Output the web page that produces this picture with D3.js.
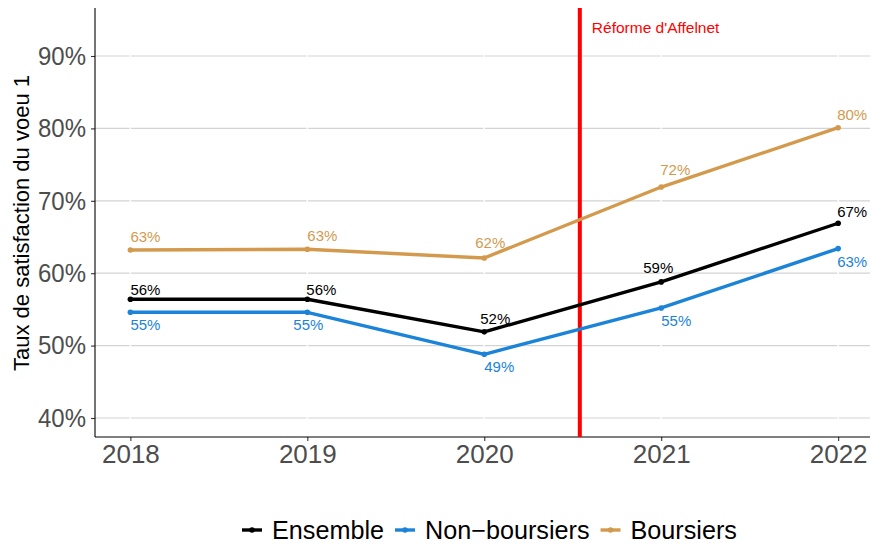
<!DOCTYPE html>
<html>
<head>
<meta charset="utf-8">
<script src="https://d3js.org/d3.v7.min.js"></script>
<style>
  body { margin: 0; background: white; font-family: 'Liberation Sans', Arial, sans-serif; }
</style>
</head>
<body>
<div id="chart"></div>
<script>
const years = [2018, 2019, 2020, 2021, 2022]
const seriesNames = ["Ensemble", "Non-boursiers", "Boursiers"]
const legendLabels = ["Ensemble", "Non\u2212boursiers", "Boursiers"]
const ensemble = [56.4, 56.4, 51.9, 58.8, 66.9]
const nonBoursiers = [54.6, 54.6, 48.8, 55.2, 63.4]
const boursiers = [63.2, 63.3, 62.1, 71.9, 80.1]
const yTicks = [40, 50, 60, 70, 80, 90]
const reformYear = 2020.54
const reformLabel = "Réforme d'Affelnet"

const colors = {"Ensemble": "#000000", "Non-boursiers": "#1B83D8", "Boursiers": "#D39A4E"}
const values = {"Ensemble": ensemble, "Non-boursiers": nonBoursiers, "Boursiers": boursiers}

const W = 871, H = 543
const pLeft = 95, pRight = 870, pTop = 8, pBottom = 437

const svg = d3.select("#chart").append("svg")
  .attr("width", W).attr("height", H)

const x = d3.scaleLinear().domain([2017.8, 2022.18]).range([pLeft, pRight])
const y = d3.scaleLinear().domain([40, 90]).range([418, 56])

// grid
svg.selectAll(".grid").data(yTicks).enter().append("line")
  .attr("x1", pLeft).attr("x2", pRight)
  .attr("y1", d => y(d)).attr("y2", d => y(d))
  .attr("stroke", "#d3d3d3").attr("stroke-width", 1.2)
svg.selectAll(".vgrid").data(years).enter().append("line")
  .attr("x1", d => x(d)).attr("x2", d => x(d))
  .attr("y1", pTop).attr("y2", pBottom)
  .attr("stroke", "white").attr("stroke-width", 1.5)

// axes
const yAxis = svg.append("g").attr("transform", `translate(${pLeft},0)`)
  .call(d3.axisLeft(y).tickValues(yTicks).tickSize(4).tickPadding(5).tickFormat(d => d + "%"))
const xAxis = svg.append("g").attr("transform", `translate(0,${pBottom})`)
  .call(d3.axisBottom(x).tickValues(years).tickSize(4).tickPadding(4).tickFormat(d3.format("d")))
for (const ax of [yAxis, xAxis]) {
  ax.select(".domain").remove()
  ax.selectAll(".tick line").attr("stroke", "#333").attr("stroke-width", 1.1)
  ax.selectAll(".tick text").attr("fill", "#4d4d4d").attr("font-size", 26)
    .attr("font-family", "'Liberation Sans', Arial, sans-serif")
}
yAxis.selectAll(".tick text").attr("textLength", 48).attr("lengthAdjust", "spacingAndGlyphs")
svg.append("line").attr("x1", pLeft).attr("x2", pLeft).attr("y1", pTop).attr("y2", pBottom)
  .attr("stroke", "#000").attr("stroke-width", 1.1)
svg.append("line").attr("x1", pLeft).attr("x2", pRight).attr("y1", pBottom).attr("y2", pBottom)
  .attr("stroke", "#000").attr("stroke-width", 1.1)

// y title
svg.append("text")
  .attr("transform", `translate(29,223) rotate(-90)`)
  .attr("text-anchor", "middle")
  .attr("font-size", 22).attr("fill", "#000")
  .text("Taux de satisfaction du voeu 1")

// reform line
svg.append("line")
  .attr("x1", x(reformYear)).attr("x2", x(reformYear))
  .attr("y1", pTop).attr("y2", pBottom)
  .attr("stroke", "#FF0000").attr("stroke-width", 4)
svg.append("text")
  .attr("x", x(reformYear) + 12).attr("y", 33)
  .attr("font-size", 15.5).attr("fill", "#FF0000")
  .text(reformLabel)

// lines
const line = d3.line().x((d, i) => x(years[i])).y(d => y(d))
for (const name of ["Boursiers", "Ensemble", "Non-boursiers"]) {
  svg.append("path").datum(values[name])
    .attr("d", line).attr("fill", "none")
    .attr("stroke", colors[name]).attr("stroke-width", 3.4)
    .attr("stroke-linejoin", "round")
  svg.selectAll(null).data(values[name]).enter().append("circle")
    .attr("cx", (d, i) => x(years[i])).attr("cy", d => y(d))
    .attr("r", 2.8).attr("fill", colors[name])
}

// labels (repel-like offsets)
const labelOffsets = {
  "Boursiers": [[0, -8], [0, -8], [-9, -10], [-1, -12], [-1, -8]],
  "Ensemble": [[0, -4], [-1, -4], [-4, -8], [-18, -9], [-1, -6]],
  "Non-boursiers": [[0, 18], [-14, 18], [0, 18], [0, 18], [-1, 18]]
}
for (const name of seriesNames) {
  svg.selectAll(null).data(values[name]).enter().append("text")
    .attr("x", (d, i) => x(years[i]) + labelOffsets[name][i][0])
    .attr("y", (d, i) => y(d) + labelOffsets[name][i][1])
    .attr("font-size", 15).attr("fill", colors[name])
    .text(d => Math.round(d) + "%")
}

// legend
const legend = svg.append("g")
let lx = 242
const ly = 530
seriesNames.forEach((name, i) => {
  const g = legend.append("g")
  g.append("line").attr("x1", lx).attr("x2", lx + 20).attr("y1", ly).attr("y2", ly)
    .attr("stroke", colors[name]).attr("stroke-width", 3.4)
  g.append("circle").attr("cx", lx + 10).attr("cy", ly).attr("r", 2.8).attr("fill", colors[name])
  const t = g.append("text").attr("x", lx + 30).attr("y", ly + 8.5)
    .attr("font-size", 25.2).attr("fill", "#000").text(legendLabels[i])
  lx += 30 + t.node().getComputedTextLength() + 11
})
</script>
</body>
</html>
